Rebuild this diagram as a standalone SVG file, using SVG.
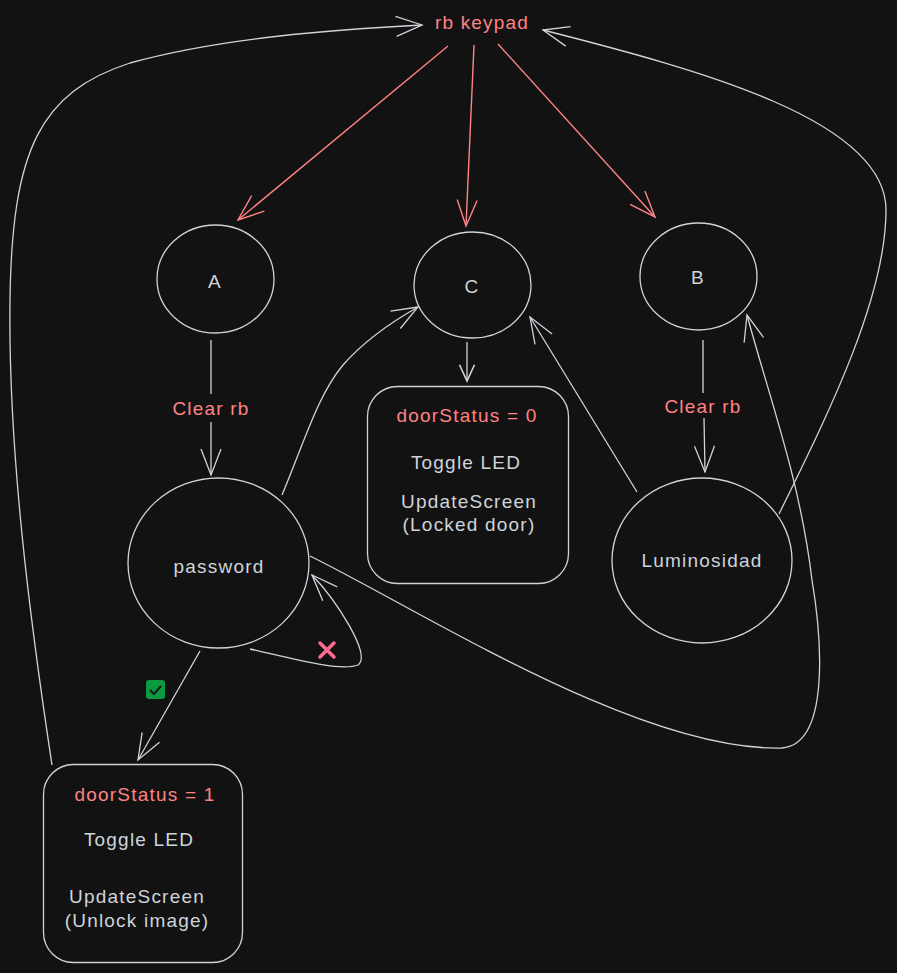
<svg xmlns="http://www.w3.org/2000/svg" width="897" height="973" viewBox="0 0 897 973">
<style>
.n{fill:none;stroke:#ced4da;stroke-width:1.3}
.e{fill:none;stroke:#ced4da;stroke-width:1.3}
.r{fill:none;stroke:#ff8383;stroke-width:1.4}
.t{font-family:"Liberation Sans",Arial,sans-serif;font-size:19px;letter-spacing:1.2px;fill:#ced4da;text-anchor:middle;dominant-baseline:central}
.tr{fill:#ff8383}
</style>
<defs>
<marker id="ag" markerUnits="userSpaceOnUse" markerWidth="40" markerHeight="30" viewBox="-30 -15 32 30" refX="0" refY="0" orient="auto" overflow="visible">
<path d="M-26,-10 L0,0 L-26,10" fill="none" stroke="#ced4da" stroke-width="1.3"/>
</marker>
<marker id="ar" markerUnits="userSpaceOnUse" markerWidth="40" markerHeight="30" viewBox="-30 -15 32 30" refX="0" refY="0" orient="auto" overflow="visible">
<path d="M-26,-10 L0,0 L-26,10" fill="none" stroke="#ff8383" stroke-width="1.4"/>
</marker>
<marker id="as" markerUnits="userSpaceOnUse" markerWidth="20" markerHeight="20" viewBox="-15 -8 16 16" refX="0" refY="0" orient="auto" overflow="visible">
<path d="M-13,-6 L0,0 L-13,6" fill="none" stroke="#ced4da" stroke-width="1.3"/>
</marker>
</defs>
<rect width="897" height="973" fill="#121212"/>

<g id="connectors">
<path class="r" d="M448,46 L238,220" marker-end="url(#ar)"/>
<path class="r" d="M474,45 L466,226" marker-end="url(#ar)"/>
<path class="r" d="M498,44 L655,217" marker-end="url(#ar)"/>
<path class="e" d="M211,340 L211,394"/>
<path class="e" d="M211,422 L211,475" marker-end="url(#ag)"/>
<path class="e" d="M703,340 L703,393"/>
<path class="e" d="M704,418 L705,472" marker-end="url(#ag)"/>
<path class="e" d="M467,342 L467,381" marker-end="url(#as)"/>
<path class="e" d="M282,495 C305,440 318,395 343,365 C365,340 395,320 418,307" marker-end="url(#ag)"/>
<path class="e" d="M637,492 L530,317" marker-end="url(#ag)"/>
<path class="e" d="M779,514 C825,420 886,300 886,210 C886,120 700,70 543,30" marker-end="url(#ag)"/>
<path class="e" d="M310,556 C420,610 640,752 782,748 C830,744 822,640 812,580 C800,480 770,400 747,315" marker-end="url(#ag)"/>
<path class="e" d="M250,649 C290,658 340,672 358,665 C372,655 336,600 312,575" marker-end="url(#ag)"/>
<path class="e" d="M200,651 L138,760" marker-end="url(#ag)"/>
<path class="e" d="M52,765 C30,620 8,450 10,300 C12,150 40,92 130,63 C220,38 330,30 422,25" marker-end="url(#ag)"/>
<g id="check">
<rect x="146" y="680" width="19" height="19" rx="3" fill="#0b9a3f"/>
<path d="M150,690 L154,694 L161,686" fill="none" stroke="#1a1a1a" stroke-width="2"/>
</g>
<g id="cross">
<path d="M320,643 L334,657 M334,643 L320,657" stroke="#ff6b8f" stroke-width="3.5" stroke-linecap="round"/>
</g>
</g>

<g id="rbkeypad"><text class="t tr" x="482" y="22">rb keypad</text></g>
<g id="nodeA"><ellipse class="n" cx="215.5" cy="279" rx="58.5" ry="54"/><text class="t" x="215" y="281">A</text></g>
<g id="nodeC"><ellipse class="n" cx="472.5" cy="285" rx="58.5" ry="53"/><text class="t" x="472" y="286">C</text></g>
<g id="nodeB"><ellipse class="n" cx="698.5" cy="276.5" rx="58.5" ry="53.5"/><text class="t" x="698" y="277">B</text></g>
<g id="password"><ellipse class="n" cx="218.5" cy="563" rx="90.5" ry="85"/><text class="t" x="219" y="566">password</text></g>
<g id="luminosidad"><ellipse class="n" cx="702" cy="560.5" rx="90" ry="82.5"/><text class="t" x="702" y="560">Luminosidad</text></g>
<g id="clearA"><text class="t tr" x="211" y="408">Clear rb</text></g>
<g id="clearB"><text class="t tr" x="703" y="406">Clear rb</text></g>
<g id="box0">
<rect class="n" x="367.5" y="386.5" width="201" height="197" rx="30"/>
<text class="t tr" x="467" y="415">doorStatus = 0</text>
<text class="t" x="466" y="462">Toggle LED</text>
<text class="t" x="469" y="501">UpdateScreen</text>
<text class="t" x="469" y="524">(Locked door)</text>
</g>
<g id="box1">
<rect class="n" x="43.5" y="764.5" width="199" height="198" rx="30"/>
<text class="t tr" x="145" y="794">doorStatus = 1</text>
<text class="t" x="139" y="839">Toggle LED</text>
<text class="t" x="137" y="896">UpdateScreen</text>
<text class="t" x="137" y="920">(Unlock image)</text>
</g>
</svg>
